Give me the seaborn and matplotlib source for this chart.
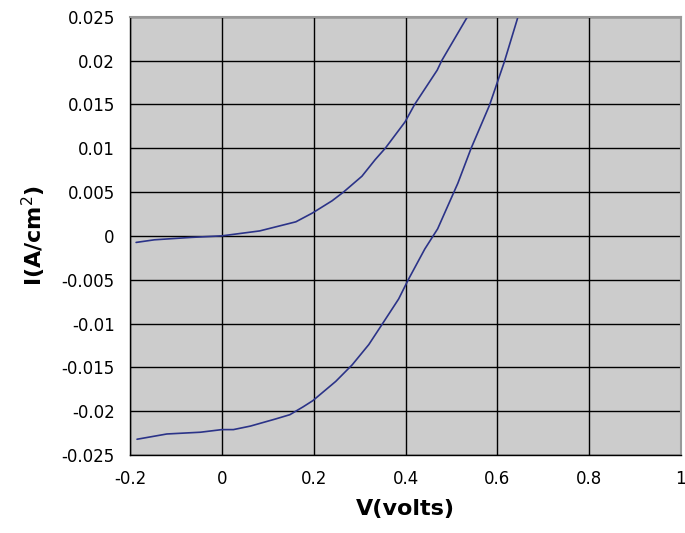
import matplotlib
matplotlib.use("Agg")
import matplotlib.pyplot as plt
import pandas as pd
import seaborn as sns

# dark curve (upper)
v_dark = [-0.187, -0.147, -0.068, 0.0, 0.082, 0.161, 0.197, 0.24, 0.265, 0.305,
          0.334, 0.356, 0.399, 0.42, 0.469, 0.479, 0.535]
i_dark = [-0.00075, -0.00045, -0.00018, 0.0, 0.00056, 0.0016, 0.0026, 0.004, 0.005, 0.0068,
          0.0087, 0.01, 0.013, 0.015, 0.0189, 0.02, 0.025]

# illuminated curve (lower)
v_light = [-0.185, -0.12, -0.047, 0.0, 0.025, 0.062, 0.116, 0.148, 0.177, 0.198,
           0.248, 0.284, 0.32, 0.352, 0.385, 0.406, 0.442, 0.47, 0.514, 0.543,
           0.583, 0.615, 0.644]
i_light = [-0.0232, -0.0226, -0.0224, -0.0221, -0.0221, -0.0217, -0.0209, -0.0204, -0.0195, -0.0188,
           -0.0166, -0.0147, -0.0124, -0.00985, -0.0072, -0.005, -0.0015, 0.0008, 0.006, 0.01,
           0.0149, 0.0198, 0.0248]

x_ticks = [-0.2, 0, 0.2, 0.4, 0.6, 0.8, 1]
x_labels = ["-0.2", "0", "0.2", "0.4", "0.6", "0.8", "1"]
y_ticks = [-0.025, -0.02, -0.015, -0.01, -0.005, 0, 0.005, 0.01, 0.015, 0.02, 0.025]
y_labels = ["-0.025", "-0.02", "-0.015", "-0.01", "-0.005", "0", "0.005", "0.01", "0.015", "0.02", "0.025"]

df = pd.concat([
    pd.DataFrame({"V": v_dark, "I": i_dark, "curve": "dark"}),
    pd.DataFrame({"V": v_light, "I": i_light, "curve": "light"}),
], ignore_index=True)

sns.set_style("white")
plt.rcParams['font.family'] = ['DejaVu Sans']
plt.rcParams['text.color'] = 'black'
plt.rcParams['axes.labelcolor'] = 'black'
plt.rcParams['xtick.color'] = 'black'
plt.rcParams['ytick.color'] = 'black'

fig = plt.figure(figsize=(6.85, 5.33), dpi=100)
ax = fig.add_axes([0.19, 0.1463, 0.804, 0.8224])
ax.set_facecolor("#cccccc")

sns.lineplot(data=df, x="V", y="I", hue="curve", palette=["#2b3388", "#2b3388"],
             sort=False, estimator=None, linewidth=1.2, legend=False, ax=ax)

ax.set_xlim(-0.2, 1)
ax.set_ylim(-0.025, 0.025)
ax.set_xticks(x_ticks)
ax.set_xticklabels(x_labels, fontsize=12)
ax.set_yticks(y_ticks)
ax.set_yticklabels(y_labels, fontsize=12)
ax.grid(True, color="black", linewidth=1.0)
ax.set_axisbelow(True)
ax.tick_params(axis="both", direction="out", length=5, width=1, color="black", pad=6)

for side in ["left", "bottom"]:
    ax.spines[side].set_color("black")
    ax.spines[side].set_linewidth(1)
for side in ["top", "right"]:
    ax.spines[side].set_color("#999999")
    ax.spines[side].set_linewidth(1.5)

ax.set_xlabel("V(volts)", fontsize=16, fontweight="bold", labelpad=8)
ax.set_ylabel("I(A/cm$^2$)", fontsize=16, fontweight="bold", labelpad=10)

fig.savefig("out.png", dpi=100)
